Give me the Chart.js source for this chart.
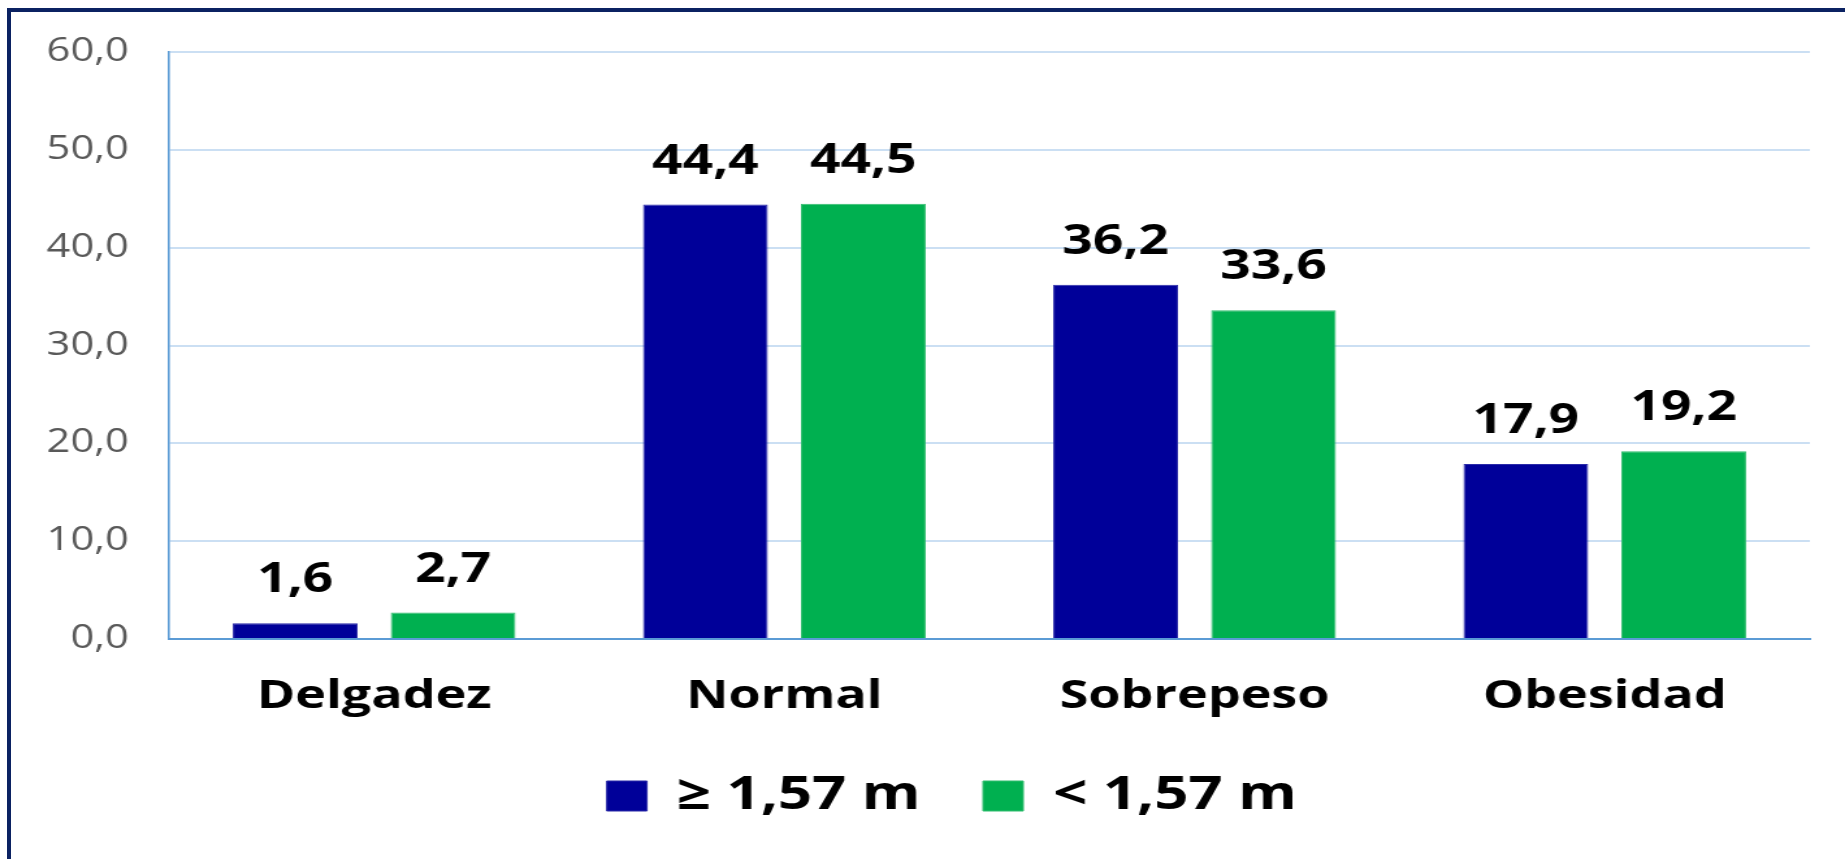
<!DOCTYPE html>
<html>
<head>
<meta charset="utf-8">
<script src="https://cdn.jsdelivr.net/npm/chart.js@4"></script>
<style>
  html, body { margin: 0; padding: 0; background: #fff; }
  body { width: 1845px; height: 859px; position: relative; overflow: hidden; }
  /* canvas is drawn narrower and stretched, like the original picture */
  #chart { position: absolute; left: 0; top: 0; width: 1845px !important; height: 859px !important; }
  #frame { position: absolute; left: 7px; top: 8px; right: 0; bottom: 0;
           border-left: 4px solid #0b2262; border-top: 4px solid #0b2262; pointer-events: none; }
</style>
</head>
<body>
<canvas id="chart" width="1419" height="859"></canvas>
<div id="frame"></div>
<script>
const categories = ['Delgadez', 'Normal', 'Sobrepeso', 'Obesidad'];
const seriesLabels = ['≥ 1,57 m', '< 1,57 m'];
const tallValues = [1.6, 44.4, 36.2, 17.9];
const shortValues = [2.7, 44.5, 33.6, 19.2];
const yMax = 60;
const yStep = 10;

const font = '"Open Sans", "Noto Sans", sans-serif';

function fmt(v) {
    return v.toFixed(1).replace('.', ',');
}

// value above each bar
const valueLabels = {
    id: 'valueLabels',
    afterDatasetsDraw(chart) {
        const ctx = chart.ctx;
        ctx.save();
        ctx.font = 'bold 41px ' + font;
        ctx.fillStyle = '#000';
        ctx.textAlign = 'center';
        ctx.textBaseline = 'alphabetic';
        chart.data.datasets.forEach((ds, i) => {
            chart.getDatasetMeta(i).data.forEach((bar, j) => {
                ctx.fillText(fmt(ds.data[j]), bar.x, bar.y - 31);
            });
        });
        ctx.restore();
    }
};

// legend sits a bit right of the canvas middle in the original
const legendShift = {
    id: 'legendShift',
    afterLayout(chart) {
        chart.legend.left += 36;
        chart.legend.right += 36;
    }
};

new Chart(document.getElementById('chart'), {
    type: 'bar',
    data: {
        labels: categories,
        datasets: [
            {
                label: seriesLabels[0],
                data: tallValues,
                backgroundColor: '#000099',
                borderColor: '#2a2aa8',
                borderWidth: 1
            },
            {
                label: seriesLabels[1],
                data: shortValues,
                backgroundColor: '#00b050',
                borderColor: '#30bd6e',
                borderWidth: 1
            }
        ]
    },
    options: {
        responsive: false,
        animation: false,
        devicePixelRatio: 1,
        categoryPercentage: 0.77,
        barPercentage: 0.79,
        layout: { padding: { left: 0, right: 27, top: 52, bottom: 30 } },
        plugins: {
            tooltip: { enabled: false },
            legend: {
                position: 'bottom',
                labels: {
                    boxWidth: 31,
                    boxHeight: 30,
                    padding: 48,
                    color: '#000',
                    font: { family: font, size: 46, weight: 'bold' }
                }
            }
        },
        scales: {
            x: {
                afterFit(scale) { scale.height = 86; },
                grid: { display: false, drawTicks: false },
                border: { color: '#5b9bd5', width: 2 },
                ticks: {
                    padding: 34,
                    color: '#000',
                    font: { family: font, size: 40, weight: 'bold' }
                }
            },
            y: {
                min: 0,
                max: yMax,
                afterFit(scale) { scale.width = 130; },
                grid: { color: '#cbdff3', lineWidth: 2, drawTicks: false },
                border: { color: '#5b9bd5', width: 1.6 },
                ticks: {
                    stepSize: yStep,
                    padding: 31,
                    color: '#595959',
                    font: { family: font, size: 32 },
                    callback: v => fmt(v)
                }
            }
        }
    },
    plugins: [valueLabels, legendShift]
});
</script>
</body>
</html>
